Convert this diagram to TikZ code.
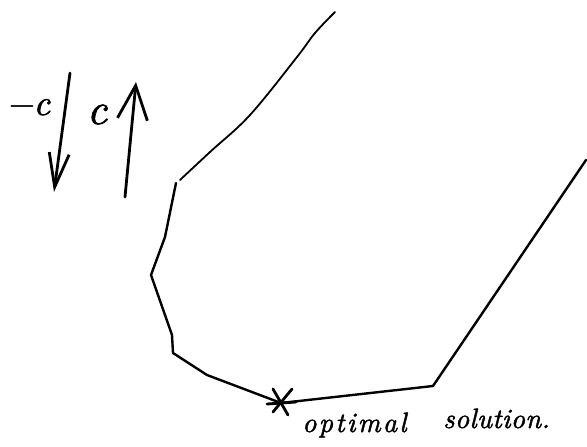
\documentclass[tikz,border=0pt]{standalone}
\usepackage{fontspec}
\newfontfamily\handa{lmroman10-italic.otf}[LetterSpace=8,FakeBold=1.5]
\newfontfamily\handb{lmroman10-italic.otf}[LetterSpace=1,FakeBold=1.5]
\newfontfamily\handc{lmroman10-italic.otf}[FakeBold=1.5]
\usetikzlibrary{arrows.meta,calc}
\begin{document}
\begin{tikzpicture}[x=1pt,y=-1pt,
  pen/.style={line width=2.4pt,line cap=round,line join=round},
  hand/.style={inner sep=0pt,anchor=base west}]
\useasboundingbox (0,0) rectangle (587,447);
% feasible region boundary
\coordinate (p0) at (335,12);
\coordinate (p3) at (176,183);
\coordinate (p4) at (165,237);
\coordinate (p5) at (151,275);
\coordinate (p6) at (172,335);
\coordinate (p7) at (173,353);
\coordinate (p8) at (207,375);
\coordinate (opt) at (281,403);
\coordinate (q1) at (433,386);
\coordinate (q2) at (586,160);
\draw[pen,line width=1.8pt] plot[smooth,tension=0.6] coordinates {(335,12) (315,33) (297,57) (250,115) (210,152) (180,180)};
\draw[pen] (p3) -- (p4) -- (p5) -- (p6) -- (p7) -- (p8) -- (opt) -- (q1) -- (q2);
% optimum marker
\draw[pen,line width=2.8pt] ($(opt)+(-8,-14)$) -- ($(opt)+(7,12)$);
\draw[pen,line width=2.8pt] ($(opt)+(11,-14)$) -- ($(opt)+(-8,9)$);
\draw[pen,line width=2.8pt] ($(opt)+(-14,1)$) -- ($(opt)+(15,-1)$);
\node[hand,font=\fontsize{28}{32}\selectfont\handa] (l1) at (302,432) {optimal};
\node[hand,font=\fontsize{28}{32}\selectfont\handb] (l2) at (443,428) {solution.};
% objective directions
\coordinate (d0) at (70,73);
\coordinate (d1) at (54,192);
\draw[pen,line width=2.8pt,-{Straight Barb[length=34pt,width=20pt]}] (d0) -- (d1);
\coordinate (u0) at (125,197);
\coordinate (u1) at (136,82);
\draw[pen,line width=2.8pt,-{Straight Barb[length=34pt,width=30pt]}] (u0) -- (u1);
\node[font=\fontsize{44}{48}\selectfont\handc,inner sep=0pt,anchor=base] (c) at (97,124) {c};
\node[font=\fontsize{36}{40}\selectfont\handc,inner sep=0pt,anchor=base] (mc) at (28,115) {\char"2212c};
\end{tikzpicture}
\end{document}
